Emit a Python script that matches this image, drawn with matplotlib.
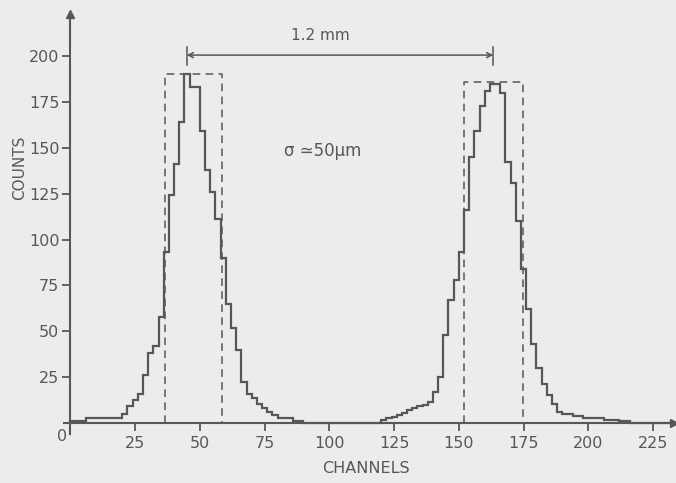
import numpy as np
import matplotlib
matplotlib.use("Agg")
import matplotlib.pyplot as plt

# histogram of counts per channel, bins of 2 channels
bin_width = 2
n_bins = 116

# left peak, bins starting at channel 0
left_start = 0
left_counts = [1, 1, 1, 3, 3, 3, 3, 3, 3, 3,
               5, 9, 12.5, 16, 26, 38, 42, 58, 93, 124,
               141, 164, 190, 183, 183, 159, 138, 126, 111, 90,
               65, 52, 40, 22.5, 16, 13.5, 10.5, 8, 6, 4.5,
               2.5, 2.5, 2.5, 1, 1]

# right peak, bins starting at channel 120
right_start = 120
right_counts = [1.5, 3, 3.5, 4.4, 5.6, 7, 8, 9.4, 10, 11.6,
                17, 25, 48, 67, 78, 93, 116, 145, 159, 173,
                181, 185, 185, 180, 142, 131, 110, 84, 62, 43,
                30, 21, 15, 10.5, 6, 5, 5, 4, 4, 2.5,
                2.5, 2.5, 2.5, 1.5, 1.5, 1.5, 1, 1]

# dashed windows: (left channel, right channel, height)
windows = [(36.5, 58.4, 190), (152, 174.7, 186)]

# dimension arrow between peak centres
arrow_x = (44.9, 163.3)
arrow_y = 200.5

x_ticks = [25, 50, 75, 100, 125, 150, 175, 200, 225]
y_ticks = [25, 50, 75, 100, 125, 150, 175, 200]

ink = "#575757"
paper = "#ececec"

edges = np.arange(n_bins + 1) * bin_width
counts = np.zeros(n_bins)
i0 = left_start // bin_width
counts[i0:i0 + len(left_counts)] = left_counts
i1 = right_start // bin_width
counts[i1:i1 + len(right_counts)] = right_counts

fig = plt.figure(figsize=(6.76, 4.83), dpi=100, facecolor=paper)
ax = fig.add_axes([0.0947, 0.1014, 0.9019, 0.870])
ax.set_facecolor(paper)

ax.stairs(counts, edges, baseline=0, color=ink, lw=1.6)

for x0, x1, h in windows:
    ax.plot([x0, x0, x1, x1], [0, h, h, 0], ls=(0, (5, 3.5)), color=ink, lw=1.1)

ax.annotate("", xy=(arrow_x[0], arrow_y), xytext=(arrow_x[1], arrow_y),
            arrowprops=dict(arrowstyle="<->", color=ink, lw=1.1,
                            shrinkA=0, shrinkB=0, mutation_scale=9))
for xb in arrow_x:
    ax.plot([xb, xb], [195, 205], color=ink, lw=1.1)

ax.text(96.5, 207, "1.2 mm", ha="center", va="bottom", fontsize=11, color=ink)
ax.text(82.5, 148, "σ ≃50µm", ha="left", va="center", fontsize=12, color=ink)

ax.set_xlim(-2.5, 233)
ax.set_ylim(-6, 223)
for side in ("top", "right"):
    ax.spines[side].set_visible(False)
for side in ("left", "bottom"):
    ax.spines[side].set_position(("data", 0))
    ax.spines[side].set_color(ink)
    ax.spines[side].set_linewidth(1.5)

ax.plot(233, 0, marker=">", ms=6, color=ink, clip_on=False)
ax.plot(0, 223, marker="^", ms=6, color=ink, clip_on=False)

ax.set_xticks(x_ticks)
ax.set_yticks(y_ticks)
ax.tick_params(axis="both", direction="out", length=6, width=1.3,
               color=ink, labelcolor=ink, labelsize=11.5)
ax.tick_params(axis="x", pad=3)
ax.tick_params(axis="y", pad=2)

ax.text(-3.3, -3.5, "0", ha="center", va="top", fontsize=11.5, color=ink)
ax.text(0.495, -0.081, "CHANNELS", transform=ax.transAxes,
        ha="center", va="center", fontsize=11.5, color=ink)
ax.text(-0.072, 0.633, "COUNTS", transform=ax.transAxes, rotation=90,
        ha="center", va="center", fontsize=11, color=ink)

fig.savefig("out.png", dpi=100, facecolor=paper)
